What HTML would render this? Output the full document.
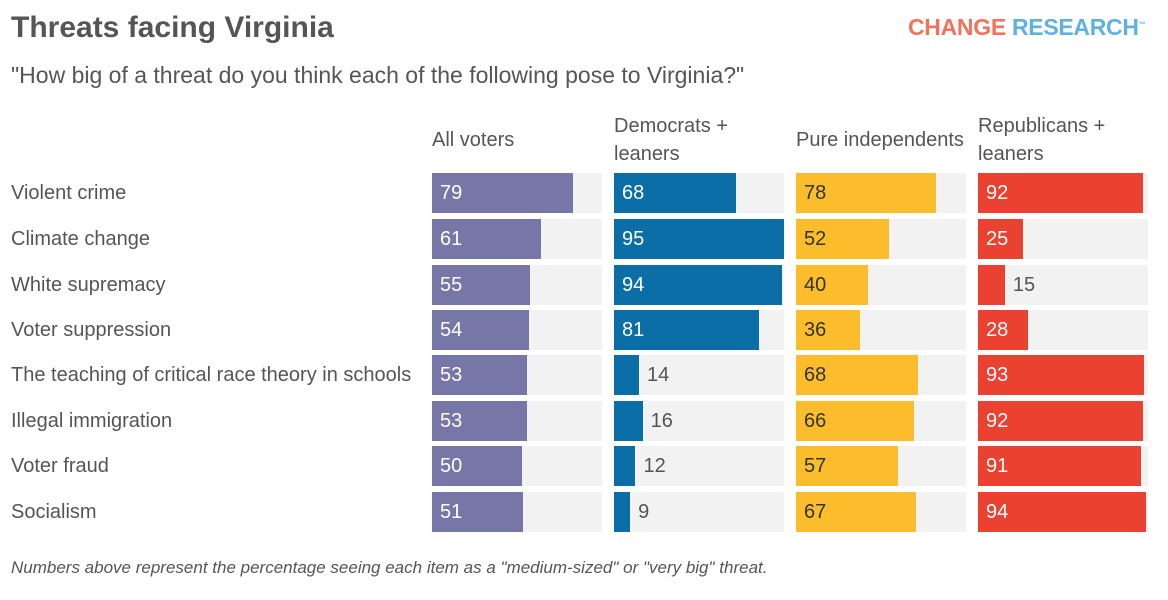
<!DOCTYPE html>
<html><head><meta charset="utf-8"><style>
body{margin:0;width:1168px;height:600px;background:#fff;font-family:"Liberation Sans",sans-serif;overflow:hidden;position:relative;color:#555}
.t{position:absolute;white-space:nowrap}
</style></head><body>
<div class="t" style="left:11px;top:11px;font-size:30px;font-weight:bold;color:#555">Threats facing Virginia</div>
<div class="t" style="left:11px;top:62px;font-size:23px;color:#555">"How big of a threat do you think each of the following pose to Virginia?"</div>
<div class="t" style="left:908px;top:14px;font-size:23px;font-weight:bold;letter-spacing:-0.3px"><span style="color:#f3725c">CHANGE</span> <span style="color:#5fb1de">RESEARCH</span><sup style="font-size:7px;color:#5fb1de">™</sup></div>
<div class="t" style="left:11px;top:558px;font-size:17px;font-style:italic;color:#555">Numbers above represent the percentage seeing each item as a "medium-sized" or "very big" threat.</div>
<div id="chart"></div>
<script>
const categories=["Violent crime","Climate change","White supremacy","Voter suppression","The teaching of critical race theory in schools","Illegal immigration","Voter fraud","Socialism"];
const groups=["All voters","Democrats +\nleaners","Pure independents","Republicans +\nleaners"];
const allVoters=[79,61,55,54,53,53,50,51];
const democrats=[68,95,94,81,14,16,12,9];
const independents=[78,52,40,36,68,66,57,67];
const republicans=[92,25,15,28,93,92,91,94];
const series=[allVoters,democrats,independents,republicans];
const colors=["#7677a6","#0b6ea6","#fbbd2c","#ea4131"];
const colX=[432,614,796,978];
const rowTop=[173,219,265,310,355,401,446,492];
const scale=1.79,bgW=170,barH=40;
const c=document.getElementById('chart');
function add(tag,css,txt){const e=document.createElement(tag);e.style.cssText=css;if(txt!==undefined)e.textContent=txt;c.appendChild(e);return e;}
groups.forEach((g,i)=>{
  const lines=g.split("\n");
  const e=add('div',`position:absolute;left:${colX[i]}px;top:${lines.length>1?112:126}px;font-size:20px;line-height:28px;white-space:pre;color:#555`,g);
  
  
});
categories.forEach((cat,r)=>{
  const l=add('div',`position:absolute;left:11px;top:${rowTop[r]}px;height:${barH}px;line-height:${barH}px;font-size:20px;color:#555;white-space:nowrap`,cat);
  
  
  series.forEach((s,i)=>{
    const bg=add('div',`position:absolute;left:${colX[i]}px;top:${rowTop[r]}px;width:${bgW}px;height:${barH}px;background:#f2f2f2`);
    
    
    const w=s[r]*scale;
    const b=add('div',`position:absolute;left:${colX[i]}px;top:${rowTop[r]}px;width:${w}px;height:${barH}px;background:${colors[i]}`);
    
    
    const inside=s[r]>=20;
    const col=inside?(i==2?'#333':'#fff'):'#555';
    const v=add('div',`position:absolute;left:${inside?colX[i]+8:colX[i]+w+8}px;top:${rowTop[r]}px;line-height:${barH}px;font-size:20px;color:${col}`,s[r]);
    
    
  });
});
</script>
</body></html>
